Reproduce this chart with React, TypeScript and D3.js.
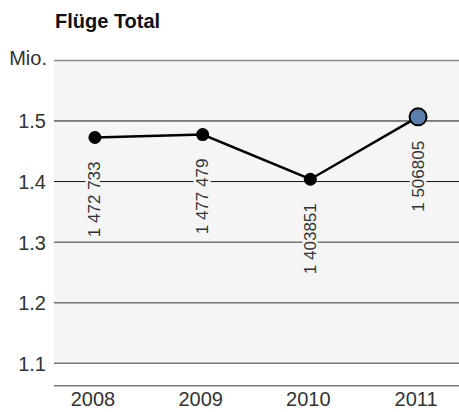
import React, { useEffect, useRef } from 'react';
import * as d3 from 'd3';

const years = ['2008', '2009', '2010', '2011'];
const flights = [1472733, 1477479, 1403851, 1506805];
const valueLabels = ['1 472 733', '1 477 479', '1 403851', '1 506805'];
const ticks = [1.1, 1.2, 1.3, 1.4, 1.5];
const darkTicks = [1.4, 1.5];

const W = 459, H = 412;
const font = '"Liberation Sans", Arial, Helvetica, sans-serif';

export default function App() {
  const ref = useRef<SVGSVGElement>(null);

  useEffect(() => {
    const svg = d3.select(ref.current);
    svg.selectAll('*').remove();

    const left = 54, right = W;
    const x = d3.scalePoint<string>().domain(years).range([left, right]).padding(0.38);
    const y = d3.scaleLinear().domain([1.063, 1.6]).range([385.7, 60.4]);

    // grey plot background
    svg.append('rect')
      .attr('x', left).attr('y', y(1.6))
      .attr('width', right - left).attr('height', y(1.1) - y(1.6))
      .attr('fill', '#f5f5f5');

    // title
    svg.append('text')
      .attr('x', 55).attr('y', 28)
      .attr('font-family', font).attr('font-size', 20).attr('font-weight', 'bold')
      .attr('fill', '#111')
      .text('Flüge Total');

    // top "Mio." line
    svg.append('line')
      .attr('x1', left).attr('x2', right)
      .attr('y1', y(1.6)).attr('y2', y(1.6))
      .attr('stroke', '#888').attr('stroke-width', 1.5);
    svg.append('text')
      .attr('x', 47).attr('y', y(1.6) + 5)
      .attr('text-anchor', 'end')
      .attr('font-family', font).attr('font-size', 20).attr('fill', '#333')
      .text('Mio.');

    // gridlines + tick labels
    const g = svg.append('g');
    ticks.forEach(t => {
      const dark = darkTicks.includes(t);
      g.append('line')
        .attr('x1', left).attr('x2', right)
        .attr('y1', y(t)).attr('y2', y(t))
        .attr('stroke', dark ? '#111' : '#777')
        .attr('stroke-width', dark ? 1 : 1.5);
      g.append('text')
        .attr('x', 46).attr('y', y(t) + 7.5)
        .attr('text-anchor', 'end')
        .attr('font-family', font).attr('font-size', 20).attr('fill', '#333')
        .text(d3.format('.1f')(t));
    });

    // bottom axis line
    svg.append('line')
      .attr('x1', left).attr('x2', right)
      .attr('y1', y(1.063)).attr('y2', y(1.063))
      .attr('stroke', '#777').attr('stroke-width', 1.5);

    // year labels
    years.forEach(yr => {
      svg.append('text')
        .attr('x', x(yr)! - 2).attr('y', 406)
        .attr('text-anchor', 'middle')
        .attr('font-family', font).attr('font-size', 20).attr('fill', '#333')
        .text(yr);
    });

    // value labels (rotated, with halo)
    flights.forEach((v, i) => {
      const px = x(years[i])!, py = y(v / 1e6) + 24;
      svg.append('text')
        .attr('transform', `translate(${px},${py}) rotate(-90)`)
        .attr('text-anchor', 'end')
        .attr('dominant-baseline', 'central')
        .attr('font-family', font).attr('font-size', 17).attr('fill', '#333')
        .attr('stroke', '#f5f5f5').attr('stroke-width', 5)
        .attr('paint-order', 'stroke')
        .text(valueLabels[i]);
    });

    // line
    const line = d3.line<number>()
      .x((_, i) => x(years[i])!)
      .y(d => y(d / 1e6));
    svg.append('path')
      .datum(flights)
      .attr('d', line)
      .attr('fill', 'none')
      .attr('stroke', '#000')
      .attr('stroke-width', 2.5);

    // dots
    flights.forEach((v, i) => {
      const last = i === flights.length - 1;
      svg.append('circle')
        .attr('cx', x(years[i])!).attr('cy', y(v / 1e6))
        .attr('r', last ? 8.5 : 6.5)
        .attr('fill', last ? '#5b7fad' : '#000')
        .attr('stroke', '#000')
        .attr('stroke-width', last ? 2 : 0);
    });
  }, []);

  return (
    <svg ref={ref} width={W} height={H}
      style={{ position: 'absolute', left: 0, top: 0, background: '#fff' }} />
  );
}
